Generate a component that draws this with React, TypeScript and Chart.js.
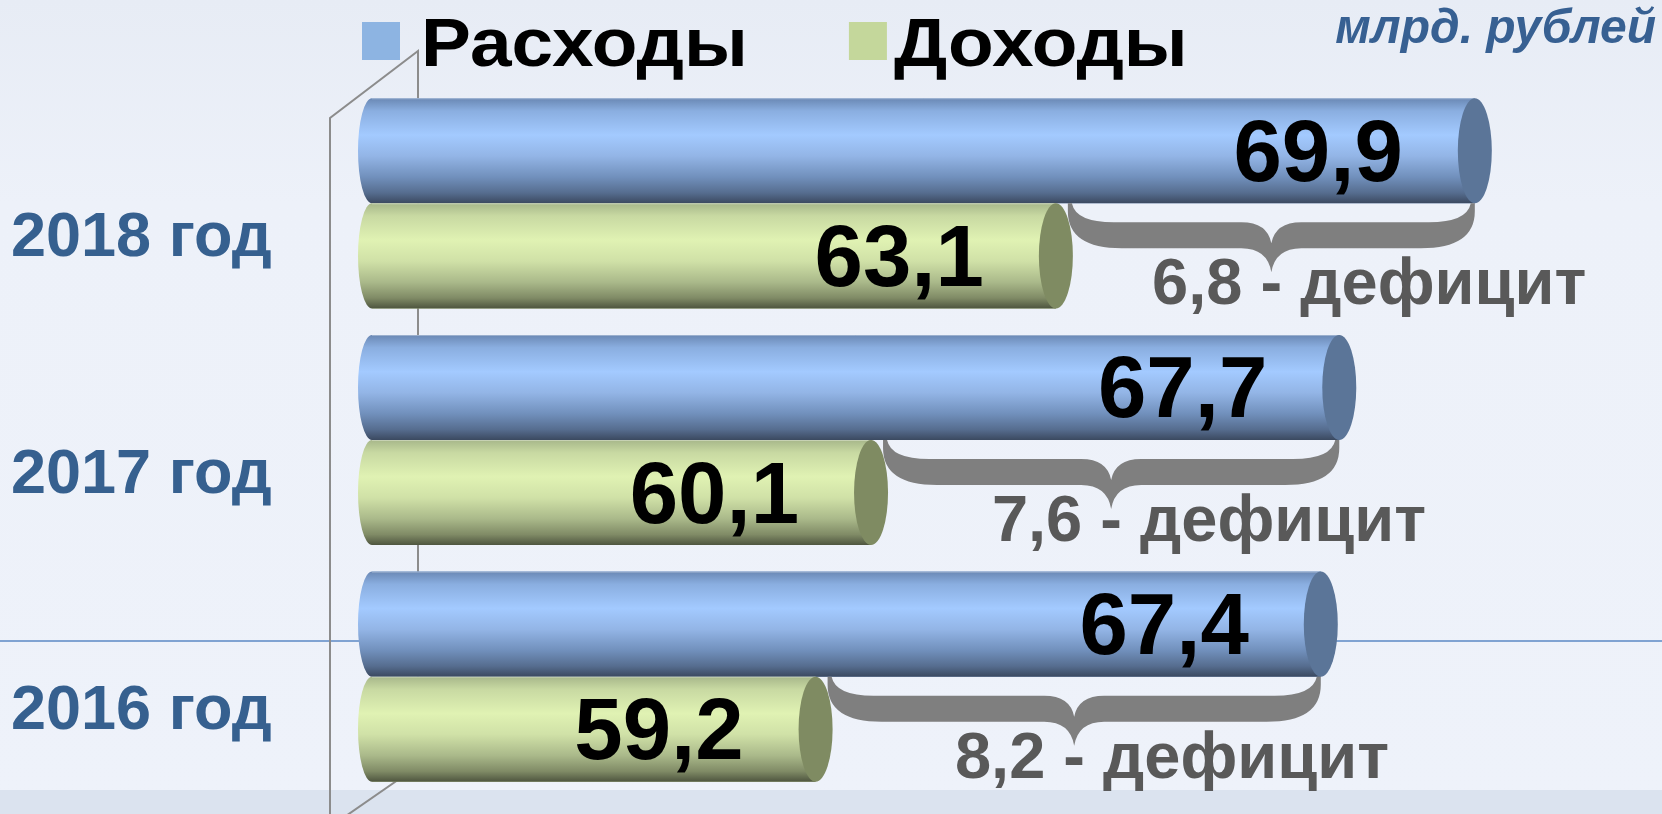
import React, { useEffect, useRef } from 'react';
import { Chart, registerables } from 'chart.js';

Chart.register(...registerables);

// ---- data ----
const years = ['2018 год', '2017 год', '2016 год'];
const seriesNames = ['Расходы', 'Доходы'];
const expenses = [69.9, 67.7, 67.4];
const incomes = [63.1, 60.1, 59.2];
const deficits = [6.8, 7.6, 8.2];
const deficitWord = 'дефицит';
const unitLabel = 'млрд. рублей';
const axisMin = 52;
const axisMax = 72.5;

// ---- style ----
const FONT = '"Liberation Sans", Arial, Helvetica, sans-serif';
const legendColors = ['#8DB4E2', '#C4D79B'];
const capColors = ['#5B7598', '#7F8B62'];
const gradStops = [
  [
    [0, '#6A88B4'],
    [0.12, '#8AAEE0'],
    [0.35, '#A3CAFF'],
    [0.55, '#93B5E6'],
    [0.75, '#7190BC'],
    [0.9, '#566D8F'],
    [1, '#3B4960'],
  ],
  [
    [0, '#A7B78A'],
    [0.12, '#C8D9A2'],
    [0.35, '#E0F2B3'],
    [0.55, '#D0E1A7'],
    [0.75, '#AAB98A'],
    [0.9, '#808B66'],
    [1, '#4E553F'],
  ],
];

const fmt = (v: number) => v.toFixed(1).replace('.', ',');

const backgroundPlugin = {
  id: 'slideBackground',
  beforeDraw(chart: any) {
    const { ctx, width, height } = chart;
    ctx.save();
    const g = ctx.createLinearGradient(0, 0, 0, height);
    g.addColorStop(0, '#E7ECF5');
    g.addColorStop(0.25, '#EDF1F9');
    g.addColorStop(1, '#EEF2FA');
    ctx.fillStyle = g;
    ctx.fillRect(0, 0, width, height);
    ctx.fillStyle = '#DBE3EF';
    ctx.fillRect(0, 790, width, height - 790);
    // horizontal template line
    ctx.strokeStyle = '#5B89C4';
    ctx.lineWidth = 1.5;
    ctx.beginPath();
    ctx.moveTo(0, 641);
    ctx.lineTo(width, 641);
    ctx.stroke();
    // 3D wall edges
    ctx.strokeStyle = '#8C8C8C';
    ctx.lineWidth = 2;
    ctx.beginPath();
    ctx.moveTo(330, height);
    ctx.lineTo(330, 118);
    ctx.lineTo(418, 51);
    ctx.lineTo(418, 766);
    ctx.lineTo(330, 827);
    ctx.stroke();
    ctx.restore();
  },
};

const cylinderPlugin = {
  id: 'cylinders',
  afterDatasetsDraw(chart: any) {
    const { ctx } = chart;
    ctx.save();
    chart.data.datasets.forEach((ds: any, d: number) => {
      const meta = chart.getDatasetMeta(d);
      meta.data.forEach((el: any, i: number) => {
        const { x, y, base, height } = el.getProps(['x', 'y', 'base', 'height'], true);
        const top = y - height / 2;
        const bottom = y + height / 2;
        const g = ctx.createLinearGradient(0, top, 0, bottom);
        gradStops[d].forEach(([o, c]: any) => g.addColorStop(o, c));
        ctx.fillStyle = g;
        ctx.beginPath();
        ctx.moveTo(x, top);
        ctx.lineTo(base, top);
        ctx.ellipse(base, y, 14, height / 2, 0, -Math.PI / 2, Math.PI / 2, true);
        ctx.lineTo(x, bottom);
        ctx.closePath();
        ctx.fill();
        // light top rim
        ctx.strokeStyle = 'rgba(255,255,255,0.35)';
        ctx.lineWidth = 1;
        ctx.beginPath();
        ctx.moveTo(base, top + 0.5);
        ctx.lineTo(x, top + 0.5);
        ctx.stroke();
        ctx.fillStyle = capColors[d];
        ctx.beginPath();
        ctx.ellipse(x, y, 17, height / 2, 0, 0, Math.PI * 2);
        ctx.fill();
        // value label
        ctx.fillStyle = '#000000';
        ctx.font = `bold 87px ${FONT}`;
        ctx.textAlign = 'right';
        ctx.textBaseline = 'alphabetic';
        ctx.fillText(fmt(ds.data[i]), x - 72, y + 30);
      });
    });

    // deficit braces
    const mExp = chart.getDatasetMeta(0);
    const mInc = chart.getDatasetMeta(1);
    deficits.forEach((dv, i) => {
      const b = mExp.data[i].getProps(['x', 'y', 'height'], true);
      const gEl = mInc.data[i].getProps(['x'], true);
      const yT = b.y + b.height / 2;
      const L = gEl.x + 12;
      const R = b.x;
      const M = (L + R) / 2;
      const y1 = yT + 19;
      const y2 = yT + 45;
      const yc = yT + 40;
      const yt = yT + 69;
      const r = 46;
      const rm = 30;
      ctx.fillStyle = '#7F7F7F';
      ctx.beginPath();
      ctx.moveTo(L, yT);
      ctx.lineTo(L + 4, yT);
      ctx.quadraticCurveTo(L + 8, y1, L + r, y1);
      ctx.lineTo(M - rm, y1);
      ctx.quadraticCurveTo(M - 4, y1, M, yc);
      ctx.quadraticCurveTo(M + 4, y1, M + rm, y1);
      ctx.lineTo(R - r, y1);
      ctx.quadraticCurveTo(R - 8, y1, R - 4, yT);
      ctx.lineTo(R, yT);
      ctx.lineTo(R, yT + 8);
      ctx.quadraticCurveTo(R, y2, R - r - 8, y2);
      ctx.lineTo(M + rm, y2);
      ctx.quadraticCurveTo(M + 4, y2, M, yt);
      ctx.quadraticCurveTo(M - 4, y2, M - rm, y2);
      ctx.lineTo(L + r + 8, y2);
      ctx.quadraticCurveTo(L, y2, L, yT + 8);
      ctx.closePath();
      ctx.fill();

      ctx.font = `bold 65px ${FONT}`;
      ctx.fillStyle = '#595959';
      ctx.textAlign = 'left';
      ctx.textBaseline = 'alphabetic';
      const prefix = fmt(dv) + ' ';
      const off = ctx.measureText(prefix).width + ctx.measureText('-').width / 2;
      ctx.fillText(`${fmt(dv)} - ${deficitWord}`, M - off, yT + 101);
    });
    ctx.restore();
  },
  afterDraw(chart: any) {
    const { ctx } = chart;
    ctx.save();
    // legend
    let x = 362;
    const sx = 1.1;
    const textGap = [59, 45];
    ctx.font = `bold 68px ${FONT}`;
    ctx.textAlign = 'left';
    ctx.textBaseline = 'alphabetic';
    chart.data.datasets.forEach((ds: any, d: number) => {
      ctx.fillStyle = legendColors[d];
      ctx.fillRect(x, 22, 38, 38);
      ctx.fillStyle = '#000000';
      const tx = x + textGap[d];
      ctx.save();
      ctx.translate(tx, 66);
      ctx.scale(sx, 1);
      ctx.fillText(ds.label, 0, 0);
      ctx.restore();
      x = tx + ctx.measureText(ds.label).width * sx + 101;
    });
    // unit
    ctx.font = `italic bold 48px ${FONT}`;
    ctx.fillStyle = '#376092';
    ctx.textAlign = 'right';
    ctx.fillText(unitLabel, 1656, 43);
    ctx.restore();
  },
};

export default function App() {
  const canvasRef = useRef<HTMLCanvasElement | null>(null);

  useEffect(() => {
    if (!canvasRef.current) return;
    const chart = new Chart(canvasRef.current, {
      type: 'bar',
      data: {
        labels: years,
        datasets: [
          {
            label: seriesNames[0],
            data: expenses,
            base: axisMin,
            backgroundColor: '#93B5E6',
            borderWidth: 0,
            categoryPercentage: 0.888,
            barPercentage: 1,
          },
          {
            label: seriesNames[1],
            data: incomes,
            base: axisMin,
            backgroundColor: '#D0E1A7',
            borderWidth: 0,
            categoryPercentage: 0.888,
            barPercentage: 1,
          },
        ],
      },
      options: {
        indexAxis: 'y',
        animation: false,
        responsive: false,
        devicePixelRatio: 1,
        layout: { padding: { left: 11, right: 27, top: 85, bottom: 19 } },
        plugins: {
          legend: { display: false },
          title: { display: false },
          tooltip: { enabled: false },
        },
        scales: {
          x: {
            display: false,
            min: axisMin,
            max: axisMax,
          },
          y: {
            grid: { display: false },
            border: { display: false },
            afterFit: (s: any) => {
              s.width = 361;
              s.paddingTop = 0;
              s.paddingBottom = 0;
            },
            ticks: {
              crossAlign: 'far',
              padding: 0,
              color: '#36608F',
              font: { family: FONT, size: 63, weight: 'bold', lineHeight: 1.12 },
              callback: function (this: any, value: any) {
                return ['', this.getLabelForValue(value)];
              },
            },
          },
        },
      },
      plugins: [backgroundPlugin, cylinderPlugin],
    });
    return () => chart.destroy();
  }, []);

  return (
    <div style={{ position: 'fixed', left: 0, top: 0, width: 1662, height: 814 }}>
      <canvas ref={canvasRef} width={1662} height={814} style={{ width: 1662, height: 814, display: 'block' }} />
    </div>
  );
}
